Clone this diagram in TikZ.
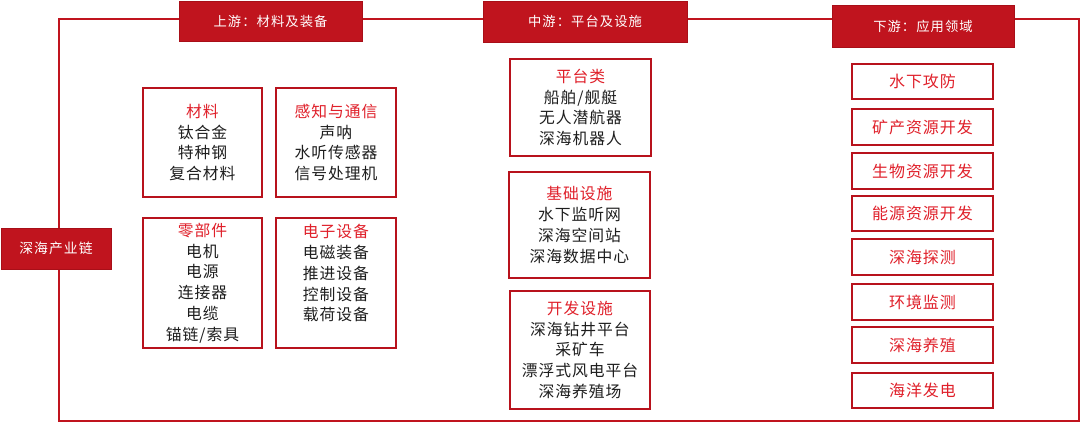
\documentclass[tikz,border=0pt]{standalone}
\usepackage{fontspec}
\newfontfamily\cjk{Noto Sans CJK SC}
\newfontfamily\cjkw{Noto Sans CJK SC}[LetterSpace=6]
\newfontfamily\cjkh{Noto Sans CJK SC}[LetterSpace=8]
\definecolor{hdr}{HTML}{C0141E}
\definecolor{hdrdark}{HTML}{A80F18}
\definecolor{brd}{HTML}{B8121C}
\definecolor{ttl}{HTML}{E0202A}
\definecolor{txt}{HTML}{1E1E1E}
\tikzset{
  hdrbox/.style={draw=hdrdark, fill=hdr, line width=1pt, text=white,
    font=\cjkh\fontsize{13.3}{16}\selectfont, inner sep=0pt},
  itembox/.style={draw=brd, line width=2pt, fill=white, align=center,
    font=\cjkw\fontsize{15.8}{20.7}\selectfont, text=txt, inner sep=0pt},
  appbox/.style={draw=brd, line width=2pt, fill=white, text=ttl,
    font=\cjkw\fontsize{16}{20}\selectfont, inner sep=0pt,
    minimum width=141pt, minimum height=35.5pt},
  frameline/.style={draw=hdr, line width=2pt}
}
\newcommand{\tl}[1]{\textcolor{ttl}{#1}}
\begin{document}
\begin{tikzpicture}[x=1pt,y=-1pt]
\useasboundingbox (0,0) rectangle (1080,423);
\fill[white] (0,0) rectangle (1080,423);
% outer frame
\coordinate (ftl) at (59,19);
\coordinate (fbr) at (1079,421);
\draw[frameline] (ftl) rectangle (fbr);
% headers
\node[hdrbox, minimum width=183pt, minimum height=40pt] (up) at (270.5,21) {上游：材料及装备};
\node[hdrbox, minimum width=204pt, minimum height=41pt] (mid) at (585,21.5) {中游：平台及设施};
\node[hdrbox, minimum width=182pt, minimum height=42pt] (down) at (923,26) {下游：应用领域};
\node[hdrbox, minimum width=110pt, minimum height=41pt, font=\cjkh\fontsize{13.8}{16}\selectfont] (chain) at (56,248.5) {深海产业链};
% upstream
\node[itembox, minimum width=119pt, minimum height=109pt] (cl) at (202.5,142.5)
  {\tl{材料}\\钛合金\\特种钢\\复合材料};
\node[itembox, minimum width=120pt, minimum height=109pt] (cg) at (336,142.5)
  {\tl{感知与通信}\\声呐\\水听传感器\\信号处理机};
\node[itembox, minimum width=119pt, minimum height=130pt] (cp) at (202.5,283)
  {\tl{零部件}\\电机\\电源\\连接器\\电缆\\锚链/索具};
\node[itembox, minimum width=120pt, minimum height=130pt] (ce) at (336,283)
  {\tl{电子设备}\\电磁装备\\推进设备\\控制设备\\载荷设备\\\mbox{}};
% midstream
\node[itembox, minimum width=141pt, minimum height=97pt] (mp) at (580.5,107.5)
  {\tl{平台类}\\船舶/舰艇\\无人潜航器\\深海机器人};
\node[itembox, minimum width=141pt, minimum height=106pt] (mi) at (579.5,225)
  {\tl{基础设施}\\水下监听网\\深海空间站\\深海数据中心};
\node[itembox, minimum width=140pt, minimum height=118pt] (md) at (580,350)
  {\tl{开发设施}\\深海钻井平台\\采矿车\\漂浮式风电平台\\深海养殖场};
% downstream
\node[appbox] (a1) at (922.5,81.5) {水下攻防};
\node[appbox] (a2) at (922.5,127) {矿产资源开发};
\node[appbox] (a3) at (922.5,171) {生物资源开发};
\node[appbox] (a4) at (922.5,213.5) {能源资源开发};
\node[appbox] (a5) at (922.5,257) {深海探测};
\node[appbox] (a6) at (922.5,302) {环境监测};
\node[appbox] (a7) at (922.5,345) {深海养殖};
\node[appbox] (a8) at (922.5,390.5) {海洋发电};
\end{tikzpicture}
\end{document}
